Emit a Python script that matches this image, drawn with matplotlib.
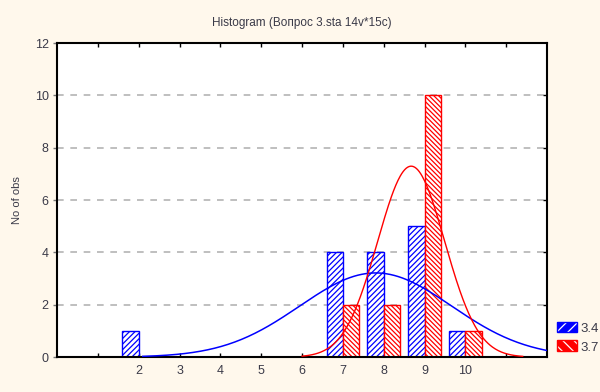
import numpy as np
import matplotlib.pyplot as plt
from matplotlib.patches import Patch
from matplotlib.legend_handler import HandlerTuple

# Histogram counts
categories = [2, 7, 8, 9, 10]
counts_34 = [1, 4, 4, 5, 1]
counts_37 = [0, 2, 2, 10, 1]
series_names = ['3.4', '3.7']

# fitted normal curves (mean, sd, n) as shown in the picture
fit_34 = (7.8, 1.86, 15)
fit_37 = (8.67, 0.82, 15)
range_34 = (2.1, 12.0)
range_37 = (6.0, 11.4)

bg = '#fff8ec'
txt = '#3a3a48'

plt.rcParams['font.family'] = ['Liberation Sans', 'DejaVu Sans']
plt.rcParams['hatch.linewidth'] = 0.9

fig = plt.figure(figsize=(6, 3.92), dpi=100, facecolor=bg)
ax = fig.add_axes([0.095, 0.089, 0.817, 0.801])
ax.set_facecolor('white')

w = 0.4
ax.bar(categories, counts_34, width=-w, align='edge', facecolor='white',
       edgecolor='blue', hatch='//////', linewidth=1.0, zorder=2)
ax.bar([c for c, v in zip(categories, counts_37) if v > 0],
       [v for v in counts_37 if v > 0], width=w, align='edge',
       facecolor='white', edgecolor='red', hatch='\\' * 7,
       linewidth=1.0, zorder=2)


def normal_curve(fit, xr):
    mu, sd, n = fit
    x = np.linspace(xr[0], xr[1], 300)
    y = n / (sd * np.sqrt(2 * np.pi)) * np.exp(-0.5 * ((x - mu) / sd) ** 2)
    return x, y


x, y = normal_curve(fit_34, range_34)
ax.plot(x, y, color='blue', lw=1.1, zorder=3)
x, y = normal_curve(fit_37, range_37)
ax.plot(x, y, color='red', lw=1.0, zorder=3)

ax.set_xlim(0, 12)
ax.set_ylim(0, 12)
ax.set_yticks(range(0, 13, 2))
ax.set_xticks(range(1, 12))
ax.set_xticklabels([''] + [str(i) for i in range(2, 11)] + [''])
for yv in range(2, 12, 2):
    ax.axhline(yv, color='#b4b4b4', lw=1.2, ls=(0, (4, 4)), zorder=1)

ax.tick_params(axis='x', direction='in', top=True, length=3, width=1,
               labelsize=9, labelcolor=txt, pad=6)
ax.tick_params(axis='y', direction='out', right=False, length=3, width=1,
               labelsize=9, labelcolor=txt, pad=3, color='#777777')
for yv in range(2, 12, 2):
    ax.plot([12], [yv], marker=0, color='black', ms=3, mew=1, clip_on=False)
for s in ax.spines.values():
    s.set_linewidth(1.5)

ax.set_ylabel('No of obs', fontsize=8, color=txt, labelpad=9)
ax.set_title('Histogram (Вопрос 3.sta 14v*15c)', fontsize=8.5, color=txt, pad=12)

handles = [
    (Patch(facecolor='blue', edgecolor='white', hatch='///', lw=0),
     Patch(facecolor='none', edgecolor='blue', lw=1)),
    (Patch(facecolor='red', edgecolor='white', hatch='\\\\\\', lw=0),
     Patch(facecolor='none', edgecolor='red', lw=1)),
]
fig.legend(handles, series_names, loc='lower left',
           bbox_to_anchor=(0.915, 0.078), frameon=False, fontsize=9.5,
           labelcolor=txt, handlelength=1.5, handleheight=0.9,
           handletextpad=0.3, labelspacing=0.45, borderpad=0.1,
           handler_map={tuple: HandlerTuple(ndivide=1, pad=0)})

fig.savefig('out.png', dpi=100, facecolor=bg)
